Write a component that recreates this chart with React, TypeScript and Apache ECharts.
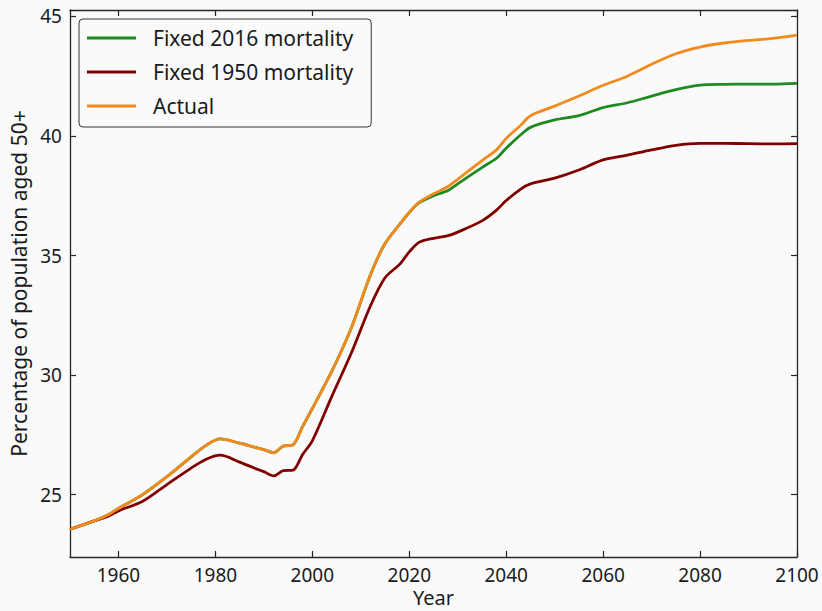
import React, { useEffect, useRef } from "react";
import * as echarts from "echarts";

const years = [1950, 1955, 1958, 1960, 1965, 1970, 1975, 1978, 1981, 1985, 1988, 1990, 1992, 1994, 1996, 1998, 2000, 2004, 2008, 2012, 2015, 2018, 2020, 2022, 2025, 2028, 2030, 2035, 2038, 2040, 2043, 2045, 2050, 2055, 2060, 2065, 2070, 2075, 2080, 2085, 2090, 2095, 2100];

const actual = [23.55, 23.9, 24.17, 24.42, 25.0, 25.75, 26.58, 27.05, 27.33, 27.15, 26.99, 26.88, 26.75, 27.03, 27.08, 27.85, 28.6, 30.15, 31.95, 34.2, 35.5, 36.3, 36.8, 37.22, 37.58, 37.89, 38.19, 38.97, 39.42, 39.9, 40.45, 40.85, 41.25, 41.67, 42.12, 42.5, 43.0, 43.44, 43.72, 43.89, 44.0, 44.08, 44.22];

const fixed2016 = [23.55, 23.9, 24.17, 24.42, 25.0, 25.75, 26.58, 27.05, 27.33, 27.15, 26.99, 26.88, 26.75, 27.03, 27.08, 27.85, 28.6, 30.15, 31.95, 34.2, 35.5, 36.3, 36.8, 37.2, 37.5, 37.72, 38.0, 38.68, 39.07, 39.49, 40.05, 40.36, 40.67, 40.85, 41.19, 41.39, 41.67, 41.94, 42.13, 42.16, 42.17, 42.17, 42.2];

const fixed1950 = [23.55, 23.9, 24.11, 24.32, 24.72, 25.42, 26.11, 26.47, 26.65, 26.36, 26.11, 25.96, 25.78, 26.0, 26.02, 26.68, 27.25, 29.1, 30.9, 32.9, 34.07, 34.63, 35.15, 35.55, 35.72, 35.83, 35.98, 36.45, 36.9, 37.3, 37.78, 38.0, 38.24, 38.58, 39.0, 39.2, 39.42, 39.61, 39.69, 39.69, 39.68, 39.67, 39.68];

const xTicks = [1960, 1980, 2000, 2020, 2040, 2060, 2080, 2100];
const yTicks = [25, 30, 35, 40, 45];

const seriesNames = ["Fixed 2016 mortality", "Fixed 1950 mortality", "Actual"];
const seriesColors = ["#1f8a1f", "#800000", "#f28a1e"];

const FONT = "Noto Sans";

export default function App() {
  const ref = useRef<HTMLDivElement>(null);
  useEffect(() => {
    if (!ref.current) return;
    const chart = echarts.init(ref.current, undefined, { renderer: "svg" });
    const pair = (vals: number[]) => years.map((y, i) => [y, vals[i]]);
    const axisLineStyle = { color: "#262626", width: 1.3 };
    const tickStyle = { show: true, inside: true, length: 6, lineStyle: { color: "#262626", width: 1.2 } };
    const xBase = { type: "value" as const, min: 1950, max: 2100, splitLine: { show: false } };
    const yBase = { type: "value" as const, min: 22.39, max: 45.27, splitLine: { show: false } };
    chart.setOption({
      animation: false,
      backgroundColor: "#fafafa",
      textStyle: { fontFamily: FONT },
      grid: { left: 70, right: 25, top: 10, bottom: 54, containLabel: false, outerBoundsMode: "none" },
      legend: {
        show: true,
        orient: "vertical",
        left: 79,
        top: 19,
        padding: [7, 18, 9, 8],
        itemGap: 10,
        itemWidth: 49,
        itemHeight: 3,
        icon: "rect",
        backgroundColor: "#fafafa",
        borderColor: "#333333",
        borderWidth: 1,
        borderRadius: 4,
        data: seriesNames,
        textStyle: { fontFamily: FONT, fontSize: 21, color: "#1a1a1a", lineHeight: 24, padding: [0, 0, 0, 12] },
      },
      xAxis: [
        {
          ...xBase,
          position: "bottom",
          name: "Year",
          nameLocation: "middle",
          nameGap: 29,
          nameMoveOverlap: false,
          nameTextStyle: { fontFamily: FONT, fontSize: 20, color: "#1a1a1a", lineHeight: 22 },
          axisLine: { show: true, lineStyle: axisLineStyle },
          axisTick: { ...tickStyle, customValues: xTicks },
          axisLabel: {
            show: true,
            customValues: xTicks,
            margin: 8,
            fontFamily: FONT,
            fontSize: 19,
            color: "#1a1a1a",
            formatter: (v: number) => String(v),
          },
        },
        {
          ...xBase,
          position: "top",
          axisLine: { show: true, lineStyle: axisLineStyle },
          axisTick: { ...tickStyle, customValues: xTicks },
          axisLabel: { show: false },
        },
      ],
      yAxis: [
        {
          ...yBase,
          position: "left",
          name: "Percentage of population aged 50+",
          nameLocation: "middle",
          nameGap: 39,
          nameTextStyle: { fontFamily: FONT, fontSize: 21, color: "#1a1a1a" },
          axisLine: { show: true, lineStyle: axisLineStyle },
          axisTick: { ...tickStyle, customValues: yTicks },
          axisLabel: {
            show: true,
            customValues: yTicks,
            margin: 8,
            fontFamily: FONT,
            fontSize: 19,
            color: "#1a1a1a",
            formatter: (v: number) => String(v),
          },
        },
        {
          ...yBase,
          position: "right",
          axisLine: { show: true, lineStyle: axisLineStyle },
          axisTick: { ...tickStyle, customValues: yTicks },
          axisLabel: { show: false },
        },
      ],
      series: [fixed2016, fixed1950, actual].map((vals, i) => ({
        name: seriesNames[i],
        type: "line",
        xAxisIndex: 0,
        yAxisIndex: 0,
        data: pair(vals),
        showSymbol: false,
        symbol: "none",
        smooth: 0.3,
        lineStyle: { color: seriesColors[i], width: 2.8 },
        itemStyle: { color: seriesColors[i] },
        z: 2 + i,
      })),
    });
    return () => chart.dispose();
  }, []);
  return (
    <div
      ref={ref}
      style={{ position: "fixed", left: 0, top: 0, width: 822, height: 611, background: "#fafafa" }}
    />
  );
}
